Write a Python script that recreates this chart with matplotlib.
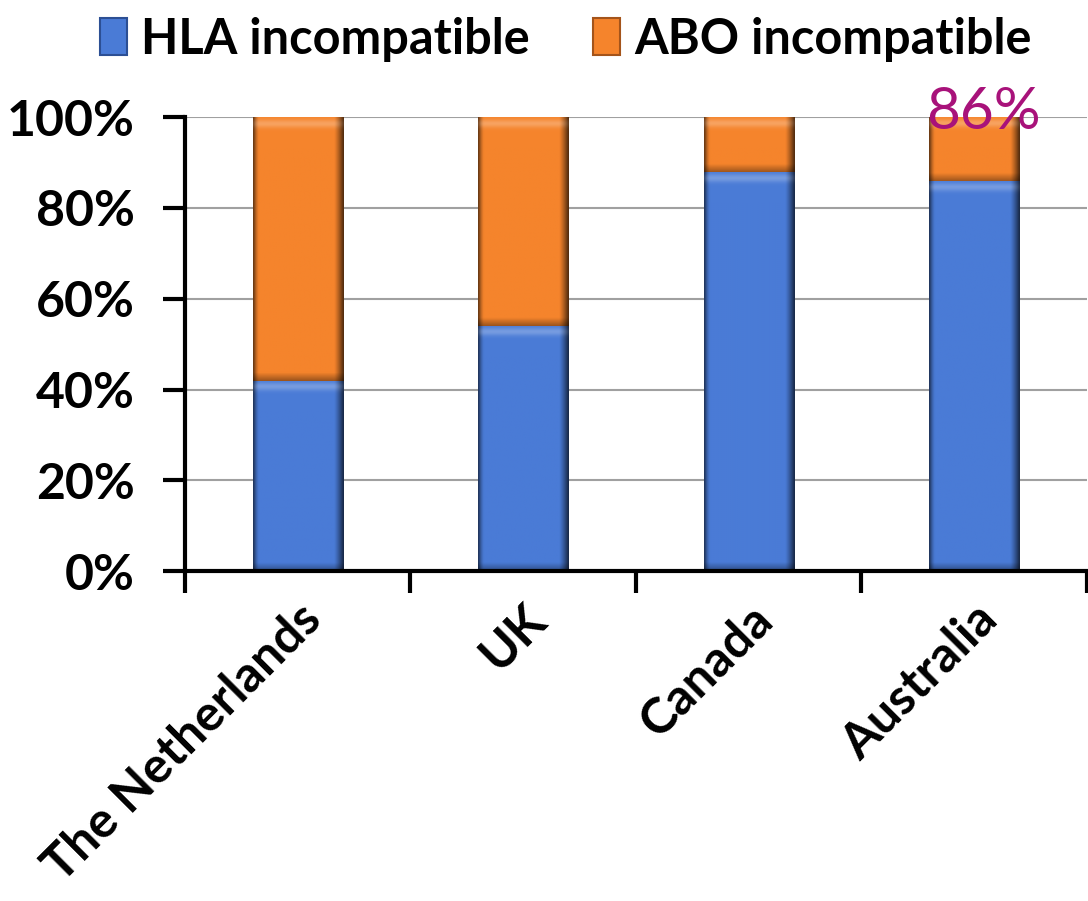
import numpy as np
import matplotlib
matplotlib.use("Agg")
import matplotlib.pyplot as plt
from matplotlib.patches import Patch
from matplotlib.colors import to_rgb
from matplotlib.ticker import FixedLocator, PercentFormatter

plt.rcParams['font.family'] = ['Lato', 'DejaVu Sans']

# Datos: porcentaje de trasplantes por tipo de incompatibilidad
paises = ['The Netherlands', 'UK', 'Canada', 'Australia']
hla = [42, 54, 88, 86]
abo = [100 - v for v in hla]

color_hla = '#4a7bd6'
color_abo = '#f5842c'

fig = plt.figure(figsize=(10.88, 9.01), dpi=100)
ax = fig.add_axes([0.170, 0.366, 0.829, 0.504])

x = np.arange(len(paises))
barras_hla = ax.bar(x, hla, width=0.40, color=color_hla, zorder=3)
barras_abo = ax.bar(x, abo, width=0.40, bottom=hla, color=color_abo, zorder=3)


def sombrear(barras, color):
    # Relleno con efecto biselado: bordes oscuros y brillo arriba
    base = np.array(to_rgb(color))
    nx, ny = 60, 200
    u = np.linspace(0, 1, nx)
    perfil = 1 - 0.55 * np.clip(1 - u / 0.06, 0, 1) ** 1.5 \
               - 0.65 * np.clip((u - 0.90) / 0.10, 0, 1) ** 1.2
    for b in barras:
        x0, y0 = b.get_x(), b.get_y()
        w, h = b.get_width(), b.get_height()
        alto_px = h / 100 * 454
        v = np.linspace(0, 1, ny) * alto_px
        brillo = np.exp(-((alto_px - v - 6) / 4.0) ** 2) * 0.25
        sombra_inf = np.clip(1 - v / 8, 0, 1) * 0.35
        img = np.ones((ny, nx, 3)) * base
        img = img * perfil[None, :, None] * (1 - sombra_inf[:, None, None])
        img = img + (1 - img) * brillo[:, None, None] * perfil[None, :, None]
        im = ax.imshow(np.clip(img, 0, 1), extent=[x0, x0 + w, y0, y0 + h],
                       origin='lower', aspect='auto', zorder=4,
                       interpolation='bilinear')
        im.set_clip_path(b)


sombrear(barras_hla, color_hla)
sombrear(barras_abo, color_abo)

# Etiqueta de valor sobre Australia
ax.text(x[3] + 0.04, 101, f'{hla[3]}%', color='#a8127a', fontsize=42,
        ha='center', va='center', zorder=6, clip_on=False)

ax.set_xlim(-0.5, len(paises) - 0.5)
ax.set_ylim(0, 100)
ax.yaxis.set_major_locator(FixedLocator([0, 20, 40, 60, 80, 100]))
ax.yaxis.set_major_formatter(PercentFormatter(decimals=0))
ax.grid(axis='y', color='#a0a0a0', linewidth=1.5, zorder=0)

ax.set_xticks(x)
ax.set_xticklabels(paises, rotation=45, ha='right', va='top',
                   rotation_mode='anchor', fontsize=36, fontweight='bold')
ax.tick_params(axis='x', which='major', length=0, pad=18)
ax.set_xticks(np.arange(-0.5, len(paises)), minor=True)
ax.tick_params(axis='x', which='minor', length=16, width=3, direction='out')
ax.tick_params(axis='y', length=16, width=3, labelsize=36, pad=20)
for t in ax.get_yticklabels():
    t.set_fontweight('bold')

for lado in ['top', 'right']:
    ax.spines[lado].set_visible(False)
for lado in ['left', 'bottom']:
    ax.spines[lado].set_linewidth(3)
    ax.spines[lado].set_zorder(5)

# Leyenda superior
marcas = [Patch(facecolor=color_hla, edgecolor='#2c4f94', linewidth=1.5, label='HLA incompatible'),
          Patch(facecolor=color_abo, edgecolor='#a4541a', linewidth=1.5, label='ABO incompatible')]
fig.legend(handles=marcas, loc='upper center', bbox_to_anchor=(0.52, 1.03), ncol=2,
           frameon=False, prop={'size': 35, 'weight': 'bold'},
           handlelength=0.55, handleheight=0.8, handletextpad=0.3, columnspacing=1.3)

plt.savefig('out.png', dpi=100)
